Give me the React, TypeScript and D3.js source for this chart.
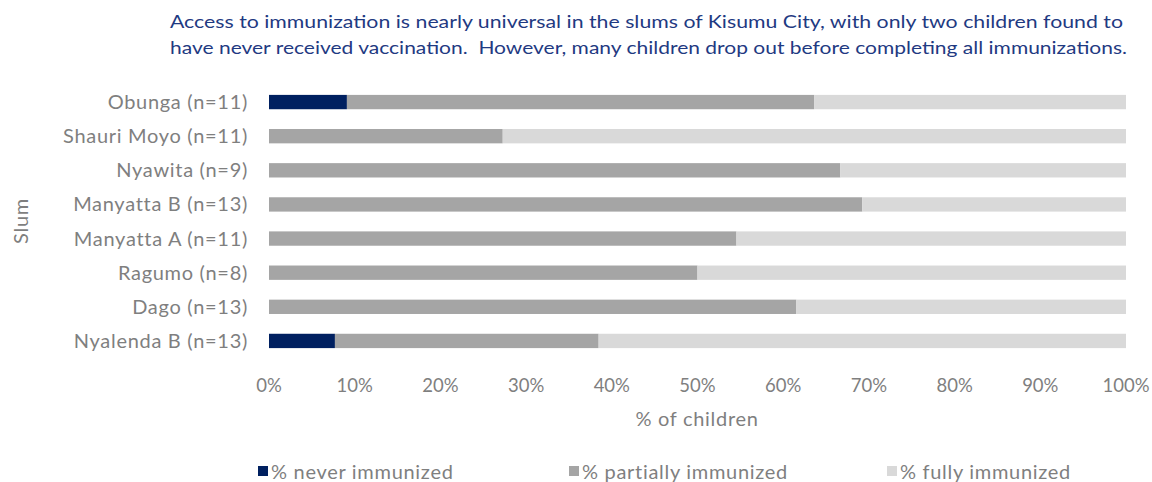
import React from "react";
import * as d3 from "d3";

const categories = [
  "Obunga (n=11)",
  "Shauri Moyo (n=11)",
  "Nyawita (n=9)",
  "Manyatta B (n=13)",
  "Manyatta A (n=11)",
  "Ragumo (n=8)",
  "Dago (n=13)",
  "Nyalenda B (n=13)",
];
const neverImmunized = [1 / 11, 0, 0, 0, 0, 0, 0, 1 / 13];
const partiallyImmunized = [6 / 11, 3 / 11, 6 / 9, 9 / 13, 6 / 11, 4 / 8, 8 / 13, 4 / 13];
const fullyImmunized = [4 / 11, 8 / 11, 3 / 9, 4 / 13, 5 / 11, 4 / 8, 5 / 13, 8 / 13];
const seriesNames = ["% never immunized", "% partially immunized", "% fully immunized"];
const seriesColors = ["#002060", "#A5A5A5", "#D9D9D9"];
const tickValues = [0, 0.1, 0.2, 0.3, 0.4, 0.5, 0.6, 0.7, 0.8, 0.9, 1.0];
const titleLines = [
  "Access to immunization is nearly universal in the slums of Kisumu City, with only two children found to",
  "have never received vaccination.  However, many children drop out before completing all immunizations.",
];

const W = 1152;
const H = 482;
const FONT = "Lato, 'Open Sans', sans-serif";
const GRAY = "#7F7F7F";

export default function App() {
  const x = d3.scaleLinear().domain([0, 1]).range([269, 1126]);
  const y = d3.scaleBand().domain(categories).range([85, 358]).paddingInner(0.58).paddingOuter(0.29);
  const series = [neverImmunized, partiallyImmunized, fullyImmunized];
  const legendX = [258, 569, 887];

  return (
    <svg width={W} height={H} style={{ position: "absolute", left: 0, top: 0, background: "#fff" }} fontFamily={FONT}>
      <text x={170} y={28} fontSize={18} fill="#1F3A82" textLength={953} lengthAdjust="spacingAndGlyphs">
        {titleLines[0]}
      </text>
      <text x={170} y={54} fontSize={18} fill="#1F3A82" textLength={957} lengthAdjust="spacingAndGlyphs" style={{ whiteSpace: "pre" }}>
        {titleLines[1]}
      </text>

      {categories.map((c, i) => {
        let acc = 0;
        return (
          <g key={c}>
            {series.map((s, k) => {
              const x0 = x(acc);
              acc += s[i];
              const x1 = x(acc);
              if (x1 - x0 <= 0) return null;
              return (
                <rect key={k} x={x0} y={y(c)!} width={x1 - x0} height={y.bandwidth()} fill={seriesColors[k]} />
              );
            })}
            <text
              x={248}
              y={y(c)! + y.bandwidth() / 2}
              dy="0.35em"
              textAnchor="end"
              fontSize={20}
              letterSpacing={0.7}
              fill={GRAY}
            >
              {c}
            </text>
          </g>
        );
      })}

      {tickValues.map((t) => (
        <text key={t} x={x(t)} y={392} textAnchor="middle" fontSize={18.5} fill={GRAY}>
          {d3.format(".0%")(t)}
        </text>
      ))}

      <text x={697} y={426} textAnchor="middle" fontSize={20} letterSpacing={0.7} fill={GRAY}>
        % of children
      </text>

      <text
        transform={`translate(28, 221) rotate(-90)`}
        textAnchor="middle"
        fontSize={20}
        letterSpacing={0.7}
        fill={GRAY}
      >
        Slum
      </text>

      {seriesNames.map((n, k) => (
        <g key={n}>
          <rect x={legendX[k]} y={466} width={10} height={10} fill={seriesColors[k]} />
          <text x={legendX[k] + 13} y={479} fontSize={20} letterSpacing={0.7} fill={GRAY}>
            {n}
          </text>
        </g>
      ))}
    </svg>
  );
}
